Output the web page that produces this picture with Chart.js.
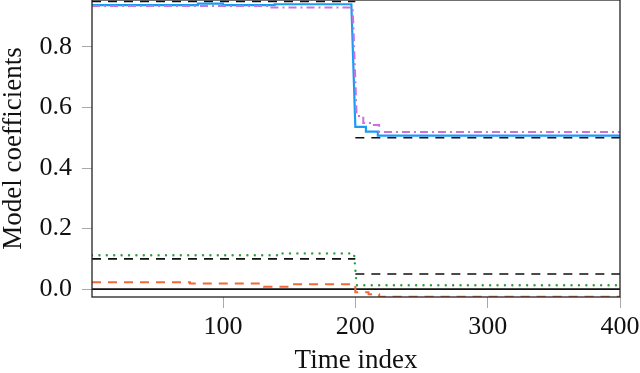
<!DOCTYPE html>
<html>
<head>
<meta charset="utf-8">
<title>Model coefficients</title>
<script src="https://cdn.jsdelivr.net/npm/chart.js@4"></script>
<style>
  html, body { margin: 0; padding: 0; background: #fff; }
  #wrap { width: 640px; height: 373px; position: relative; }
</style>
</head>
<body>
<div id="wrap"><canvas id="chart"></canvas></div>
<script>
// ── Data ──────────────────────────────────────────────────────
const xTicks = [100, 200, 300, 400]
const yTicks = [0, 0.2, 0.4, 0.6, 0.8]

// true coefficients (black) — null leaves the jump at t=200 undrawn
const timeTrue = [1, 200, 200, 200, 400]
const trueFirst = [0.95, 0.95, null, 0.5, 0.5]
const trueSecond = [0.1, 0.1, null, 0.05, 0.05]
const timeZero = [1, 400]
const trueZero = [0, 0]

// estimates
const timeBlue = [1, 81, 81, 100, 100, 139, 139, 197, 200, 208, 208, 217, 217, 400]
const estBlue = [0.938, 0.938, 0.943, 0.943, 0.938, 0.938, 0.941, 0.941, 0.536, 0.536, 0.52, 0.52, 0.507, 0.507]

const timePurple = [1, 134, 134, 198, 201, 206, 206, 213, 213, 218, 218, 400]
const estPurple = [0.935, 0.935, 0.93, 0.93, 0.572, 0.572, 0.549, 0.549, 0.542, 0.542, 0.519, 0.519]

const timeGreen = [1, 141, 141, 199, 201, 400]
const estGreen = [0.112, 0.112, 0.118, 0.118, 0.013, 0.013]

const timeOrange = [1, 75, 75, 131, 131, 152, 152, 200, 200, 210, 210, 218, 218, 400]
const estOrange = [0.023, 0.023, 0.019, 0.019, 0.008, 0.008, 0.016, 0.016, -0.01, -0.01, -0.017, -0.017, -0.025, -0.025]

// ── Helpers ───────────────────────────────────────────────────
const pts = (xs, ys) => xs.map((x, i) => ({ x, y: ys[i] }))
const font = 'Liberation Serif, Times New Roman, serif'

function line(label, xs, ys, color, width, dash, cap) {
  return {
    label,
    data: pts(xs, ys),
    borderColor: color,
    backgroundColor: color,
    borderWidth: width,
    borderDash: dash || [],
    borderCapStyle: cap || 'butt',
    pointRadius: 0,
    fill: false,
    tension: 0,
  }
}

// black frame around the plot area
const frame = {
  id: 'frame',
  afterDatasetsDraw(chart) {
    const { ctx, chartArea: a } = chart
    ctx.save()
    ctx.strokeStyle = '#222'
    ctx.lineWidth = 1.3
    ctx.strokeRect(a.left, a.top, a.right - a.left, a.bottom - a.top)
    ctx.restore()
  },
}

// ── Chart ─────────────────────────────────────────────────────
new Chart(document.getElementById('chart'), {
  type: 'line',
  data: {
    datasets: [
      line('Estimate A', timePurple, estPurple, '#cc70dd', 2, [8, 4, 2, 4]),
      line('Estimate B', timeBlue, estBlue, '#1a9cf5', 2.2),
      line('Estimate C', timeOrange, estOrange, '#f0683a', 2, [9, 7]),
      line('Estimate D', timeGreen, estGreen, '#2e9a3c', 2.4, [0, 7.4], 'round'),
      line('True 1', timeTrue, trueFirst, '#111', 1.6, [9, 7]),
      line('True 2', timeTrue, trueSecond, '#111', 1.6, [9, 7]),
      line('True 3', timeZero, trueZero, '#111', 1.6),
    ],
  },
  options: {
    responsive: true,
    maintainAspectRatio: false,
    animation: false,
    layout: { padding: { top: 0, right: 20, left: 0, bottom: 0 } },
    plugins: { legend: { display: false }, tooltip: { enabled: false } },
    scales: {
      x: {
        type: 'linear',
        min: 1,
        max: 400,
        afterBuildTicks: (s) => { s.ticks = xTicks.map((v) => ({ value: v })) },
        afterFit: (s) => { s.height = 76; s.paddingLeft = 0; s.paddingRight = 0 },
        border: { display: false },
        grid: { drawOnChartArea: false, color: '#aaa', tickLength: 11 },
        ticks: { color: '#111', font: { family: font, size: 26 }, padding: 4, maxRotation: 0 },
        title: {
          display: true,
          text: 'Time index',
          color: '#111',
          font: { family: font, size: 27 },
          padding: { top: 0, bottom: -4 },
        },
      },
      y: {
        min: -0.026,
        max: 0.955,
        afterBuildTicks: (s) => { s.ticks = yTicks.map((v) => ({ value: v })) },
        afterFit: (s) => { s.width = 92; s.paddingTop = 0; s.paddingBottom = 0 },
        border: { display: false },
        grid: { drawOnChartArea: false, color: '#aaa', tickLength: 10 },
        ticks: {
          color: '#111',
          font: { family: font, size: 26 },
          padding: 10,
          callback: (v) => Number(v).toFixed(1),
        },
        title: {
          display: true,
          text: 'Model coefficients',
          color: '#111',
          font: { family: font, size: 27, lineHeight: 1 },
          padding: { top: 0, bottom: 0 },
        },
      },
    },
  },
  plugins: [frame],
})
</script>
</body>
</html>
